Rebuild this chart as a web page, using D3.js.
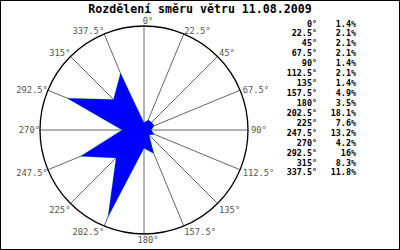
<!DOCTYPE html>
<html>
<head>
<meta charset="utf-8">
<script src="https://cdn.jsdelivr.net/npm/d3@7"></script>
<style>
html,body{margin:0;padding:0;background:#fff;}
svg{display:block;}
</style>
</head>
<body>
<svg id="chart" width="400" height="250"></svg>
<script>
const title = "Rozdělení směru větru 11.08.2009";
const directions = [0, 22.5, 45, 67.5, 90, 112.5, 135, 157.5, 180, 202.5, 225, 247.5, 270, 292.5, 315, 337.5];
const directionLabels = ["0°", "22.5°", "45°", "67.5°", "90°", "112.5°", "135°", "157.5°", "180°", "202.5°", "225°", "247.5°", "270°", "292.5°", "315°", "337.5°"];
const percentages = [1.4, 2.1, 2.1, 2.1, 1.4, 2.1, 1.4, 4.9, 3.5, 18.1, 7.6, 13.2, 4.2, 16, 8.3, 11.8];
const radialMax = 20;

const W = 400, H = 250;
const cx = 144, cy = 130, R = 104;
const svg = d3.select("#chart");

// background + border
svg.append("rect").attr("x", 0.5).attr("y", 0.5).attr("width", W - 1).attr("height", H - 1)
  .attr("fill", "#fff").attr("stroke", "#000").attr("stroke-width", 1);

// title
svg.append("text").attr("x", 200).attr("y", 13).attr("text-anchor", "middle")
  .attr("font-family", "DejaVu Sans Mono").attr("font-weight", "bold").attr("font-size", "11.6px")
  .attr("fill", "#000").text(title);

const g = svg.append("g").attr("transform", `translate(${cx},${cy})`);
const rScale = d3.scaleLinear().domain([0, radialMax]).range([0, R]);
const toRad = d => d * Math.PI / 180;

// spokes
g.selectAll("line.spoke").data(directions).join("line").attr("class", "spoke")
  .attr("x1", 0).attr("y1", 0)
  .attr("x2", d => rScale(radialMax) * Math.sin(toRad(d)))
  .attr("y2", d => -rScale(radialMax) * Math.cos(toRad(d)))
  .attr("stroke", "#666").attr("stroke-width", 1);

// outer circle
g.append("circle").attr("r", rScale(radialMax)).attr("fill", "none")
  .attr("stroke", "#000").attr("stroke-width", 1.3);

// polygon
const radial = d3.lineRadial()
  .angle((d, i) => toRad(directions[i]))
  .radius(d => rScale(d))
  .curve(d3.curveLinearClosed);
g.append("path").attr("d", radial(percentages))
  .attr("fill", "none").attr("stroke", "#00ff00").attr("stroke-width", 0.5);
g.append("path").attr("d", radial(percentages))
  .attr("fill", "#0000ff").attr("stroke", "none");

// direction labels
g.selectAll("text.dir").data(directions).join("text").attr("class", "dir")
  .attr("font-family", "DejaVu Sans Mono").attr("font-size", "8.8px").attr("fill", "#555")
  .each(function(d, i) {
    const s = Math.sin(toRad(d)), c = Math.cos(toRad(d));
    const ex = R * s, ey = -R * c;
    let anchor, x;
    if (Math.abs(s) < 0.1) { anchor = "middle"; x = ex + 4; }
    else if (s > 0) { anchor = "start"; x = ex + 3 * s * s; }
    else { anchor = "end"; x = ex; }
    let dyc;
    if (c > 0.95) dyc = -5;
    else if (c > 0.5) dyc = -3.2;
    else if (c > 0.2) dyc = -0.5;
    else if (c > -0.2) dyc = 0;
    else if (c > -0.5) dyc = 3.5;
    else dyc = 5.8;
    d3.select(this).attr("x", x).attr("y", ey + dyc + 3.2)
      .attr("text-anchor", anchor).text(directionLabels[i]);
  });

// legend table
const lg = svg.append("g");
const rowY = i => 26.5 + i * 9.93;
lg.selectAll("text.la").data(directionLabels).join("text").attr("class", "la")
  .attr("x", 317).attr("y", (d, i) => rowY(i)).attr("text-anchor", "end")
  .attr("font-family", "DejaVu Sans Mono").attr("font-size", "8.4px").attr("font-weight", "bold")
  .attr("fill", "#000").text(d => d);
lg.selectAll("text.lv").data(percentages).join("text").attr("class", "lv")
  .attr("x", 356).attr("y", (d, i) => rowY(i)).attr("text-anchor", "end")
  .attr("font-family", "DejaVu Sans Mono").attr("font-size", "8.4px").attr("font-weight", "bold")
  .attr("fill", "#000").text(d => d + "%");
</script>
</body>
</html>
